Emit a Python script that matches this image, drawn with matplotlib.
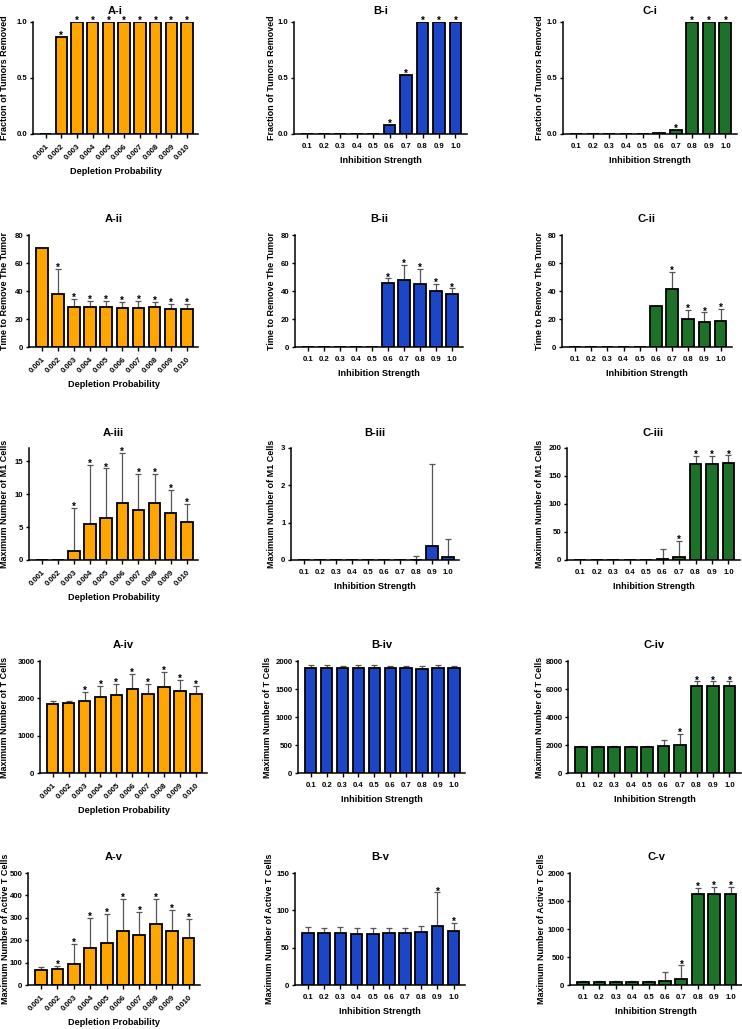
import matplotlib
matplotlib.use("Agg")
import matplotlib.pyplot as plt
import numpy as np

plt.rcParams['font.family'] = ['Liberation Sans', 'DejaVu Sans']
plt.rcParams['font.weight'] = 'bold'

# x categories
depletion = ['0.001', '0.002', '0.003', '0.004', '0.005', '0.006', '0.007', '0.008', '0.009', '0.010']
inhibition = ['0.1', '0.2', '0.3', '0.4', '0.5', '0.6', '0.7', '0.8', '0.9', '1.0']

# A column (depletion)
a_frac = [0, 0.87, 1, 1, 1, 1, 1, 1, 1, 1]
a_frac_star = [0, 1, 1, 1, 1, 1, 1, 1, 1, 1]
a_time = [71, 38, 28.5, 28.5, 28.5, 28, 28, 28.5, 27, 27.5]
a_time_err = [0, 18, 5.8, 4.5, 4.5, 4, 5, 4, 4, 3.5]
a_time_star = [0, 1, 1, 1, 1, 1, 1, 1, 1, 1]
a_m1 = [0, 0, 1.3, 5.5, 6.4, 8.7, 7.6, 8.6, 7.1, 5.7]
a_m1_err = [0, 0, 6.6, 8.9, 7.5, 7.6, 5.5, 4.5, 3.6, 2.8]
a_m1_star = [0, 0, 1, 1, 1, 1, 1, 1, 1, 1]
a_t = [1855, 1864, 1935, 2033, 2077, 2245, 2121, 2299, 2201, 2103]
a_t_err = [80, 70, 240, 310, 300, 420, 275, 400, 300, 240]
a_t_star = [0, 0, 1, 1, 1, 1, 1, 1, 1, 1]
a_act = [67, 71, 95, 163, 188, 240, 223, 273, 239, 211]
a_act_err = [13, 14, 89, 137, 130, 144, 103, 111, 95, 84]
a_act_star = [0, 1, 1, 1, 1, 1, 1, 1, 1, 1]

# B column (inhibition)
b_frac = [0, 0, 0, 0, 0, 0.08, 0.53, 1, 1, 1]
b_frac_star = [0, 0, 0, 0, 0, 1, 1, 1, 1, 1]
b_time = [0, 0, 0, 0, 0, 45.5, 48, 45, 40, 38]
b_time_err = [0, 0, 0, 0, 0, 3.5, 10.5, 11, 5, 3.8]
b_time_star = [0, 0, 0, 0, 0, 1, 1, 1, 1, 1]
b_m1 = [0, 0, 0, 0, 0, 0, 0, 0, 0.38, 0.08]
b_m1_err = [0, 0, 0, 0, 0, 0, 0, 0.12, 2.2, 0.48]
b_m1_star = [0] * 10
b_t = [1875, 1870, 1872, 1875, 1870, 1872, 1868, 1866, 1878, 1873]
b_t_err = [45, 50, 45, 45, 50, 45, 50, 50, 45, 45]
b_t_star = [0] * 10
b_act = [70, 69, 69, 68, 68, 69, 69, 71, 79, 72]
b_act_err = [8, 8, 9, 9, 8, 8, 8, 8, 45, 11]
b_act_star = [0, 0, 0, 0, 0, 0, 0, 0, 1, 1]

# C column (inhibition)
c_frac = [0, 0, 0, 0, 0, 0.005, 0.04, 1, 1, 1]
c_frac_star = [0, 0, 0, 0, 0, 0, 1, 1, 1, 1]
c_time = [0, 0, 0, 0, 0, 29.5, 41.5, 20, 18, 18.5]
c_time_err = [0, 0, 0, 0, 0, 0, 12, 6.5, 6.8, 8.5]
c_time_star = [0, 0, 0, 0, 0, 0, 1, 1, 1, 1]
c_m1 = [0, 0, 0, 0, 0, 1, 5.5, 172, 172, 173]
c_m1_err = [0, 0, 0, 0, 0, 19, 29, 14, 14, 14]
c_m1_star = [0, 0, 0, 0, 0, 0, 1, 1, 1, 1]
c_t = [1860, 1855, 1860, 1865, 1860, 1920, 2020, 6200, 6210, 6210]
c_t_err = [40, 40, 40, 40, 40, 440, 750, 350, 340, 340]
c_t_star = [0, 0, 0, 0, 0, 0, 1, 1, 1, 1]
c_act = [60, 60, 60, 60, 60, 75, 110, 1620, 1630, 1630]
c_act_err = [8, 8, 8, 8, 8, 155, 240, 120, 120, 120]
c_act_star = [0, 0, 0, 0, 0, 0, 1, 1, 1, 1]

ORANGE = '#FFA500'
BLUE = '#1B46C8'
GREEN = '#1B7228'

W, H = 742, 1029
fig = plt.figure(figsize=(W / 100, H / 100), dpi=100)

# axes boxes in pixels: (left, right) per column/row
boxes_x = {
    'A': [(33, 198), (29, 198), (29, 198), (40, 207), (28, 200)],
    'B': [(294, 467), (295, 463), (291, 459), (298, 465), (295, 465)],
    'C': [(563, 737), (562, 732), (567, 740), (568, 741), (570, 742)],
}
ylabel_px = {'A': [5, 5, 5, 5, 5],
             'B': [272, 272, 272, 268, 270],
             'C': [539, 539, 539, 539, 541]}
row_y = [22, 235, 448, 661, 873]
ax_h = 112

ylabels = ['Fraction of Tumors Removed', 'Time to Remove The Tumor',
           'Maximum Number of M1 Cells', 'Maximum Number of T Cells',
           'Maximum Number of Active T Cells']
romans = ['i', 'ii', 'iii', 'iv', 'v']

panels = {
    'A': [(a_frac, None, a_frac_star, 1.0, [0, 0.5, 1.0], ['0.0', '0.5', '1.0']),
          (a_time, a_time_err, a_time_star, 80, [0, 20, 40, 60, 80], None),
          (a_m1, a_m1_err, a_m1_star, 17, [0, 5, 10, 15], None),
          (a_t, a_t_err, a_t_star, 3000, [0, 1000, 2000, 3000], None),
          (a_act, a_act_err, a_act_star, 500, [0, 100, 200, 300, 400, 500], None)],
    'B': [(b_frac, None, b_frac_star, 1.0, [0, 0.5, 1.0], ['0.0', '0.5', '1.0']),
          (b_time, b_time_err, b_time_star, 80, [0, 20, 40, 60, 80], None),
          (b_m1, b_m1_err, b_m1_star, 3, [0, 1, 2, 3], None),
          (b_t, b_t_err, b_t_star, 2000, [0, 500, 1000, 1500, 2000], None),
          (b_act, b_act_err, b_act_star, 150, [0, 50, 100, 150], None)],
    'C': [(c_frac, None, c_frac_star, 1.0, [0, 0.5, 1.0], ['0.0', '0.5', '1.0']),
          (c_time, c_time_err, c_time_star, 80, [0, 20, 40, 60, 80], None),
          (c_m1, c_m1_err, c_m1_star, 200, [0, 50, 100, 150, 200], None),
          (c_t, c_t_err, c_t_star, 8000, [0, 2000, 4000, 6000, 8000], None),
          (c_act, c_act_err, c_act_star, 2000, [0, 500, 1000, 1500, 2000], None)],
}
colors = {'A': ORANGE, 'B': BLUE, 'C': GREEN}

for key in ['A', 'B', 'C']:
    for ri in range(5):
        vals, errs, stars, ymax, yticks, ytl = panels[key][ri]
        x0, x1 = boxes_x[key][ri]
        bottom = 1 - (row_y[ri] + ax_h) / H
        ax = fig.add_axes([x0 / W, bottom, (x1 - x0) / W, ax_h / H])
        x = np.arange(len(vals))
        ax.bar(x, vals, width=0.72, color=colors[key], edgecolor='black',
               linewidth=1.3, zorder=2)
        tops = np.array(vals, dtype=float)
        if errs is not None:
            e = np.array(errs, dtype=float)
            mask = e > 0
            ax.errorbar(x[mask], tops[mask], yerr=[np.zeros(mask.sum()), e[mask]],
                        fmt='none', ecolor='#555555', elinewidth=0.9,
                        capsize=2, capthick=0.9, zorder=1)
            tops = tops + e
        for xi, t, s in zip(x, tops, stars):
            if s:
                ax.annotate('*', (xi, t), xytext=(0, -1.5), textcoords='offset points',
                            ha='center', va='baseline', fontsize=7, fontweight='bold')
        ax.set_ylim(0, ymax)
        ax.set_xlim(-0.8, 9.7)
        ax.set_yticks(yticks)
        if ytl is not None:
            ax.set_yticklabels(ytl)
        ax.set_xticks(x)
        if key == 'A':
            ax.set_xticklabels(depletion, rotation=45, ha='right',
                               rotation_mode='anchor', fontsize=5.6)
            ax.set_xlabel('Depletion Probability', fontsize=6.6, fontweight='bold', labelpad=4)
        else:
            ax.set_xticklabels(inhibition, fontsize=5.6)
            ax.set_xlabel('Inhibition Strength', fontsize=6.6, fontweight='bold', labelpad=4)
        ax.tick_params(axis='y', labelsize=5.6, length=2.5, width=1, pad=1.5)
        ax.tick_params(axis='x', length=3, width=1)
        ax.set_ylabel(ylabels[ri], fontsize=6.5, fontweight='bold', va='center')
        ax.yaxis.set_label_coords((ylabel_px[key][ri] - x0) / (x1 - x0), 0.5)
        ax.spines['top'].set_visible(False)
        ax.spines['right'].set_visible(False)
        ax.spines['left'].set_linewidth(1.1)
        ax.spines['bottom'].set_linewidth(1.1)
        ax.set_title(f'{key}-{romans[ri]}', fontsize=8, fontweight='bold',
                     pad=5.5 if ri == 0 else 9)

fig.savefig('out.png', dpi=100)
